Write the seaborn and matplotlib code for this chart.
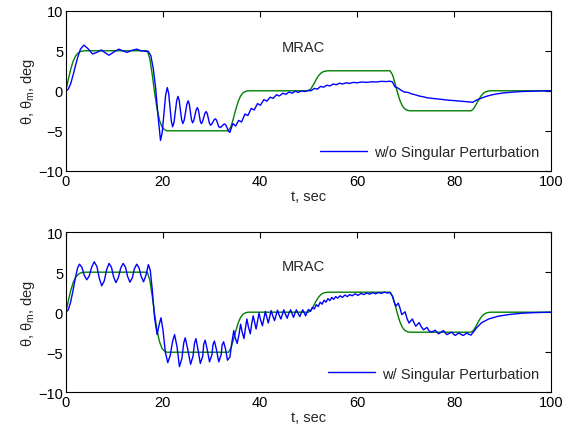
import numpy as np
import pandas as pd
import matplotlib
matplotlib.use("Agg")
import matplotlib.pyplot as plt
import seaborn as sns

# reference model theta_m (same in both panels)
t_model = [0, 0.5, 1, 1.5, 2, 2.5, 3, 3.5, 4,
           16.8, 17.3, 17.8, 18.3, 18.8, 19.3, 19.8, 20.3, 20.8,
           33.5, 34, 34.5, 35, 35.5, 36, 36.5, 37, 37.5,
           50, 50.5, 51, 51.5, 52, 52.5, 53, 53.5, 54,
           66.8, 67.3, 67.8, 68.3, 68.8, 69.3, 69.8, 70.3, 70.8,
           83.5, 84, 84.5, 85, 85.5, 86, 86.5, 87, 87.5,
           100]
theta_model = [0, 1.4, 2.7, 3.7, 4.35, 4.7, 4.9, 4.97, 5,
               5, 4.0, 2.0, -0.3, -2.3, -3.7, -4.5, -4.85, -5,
               -5, -4.5, -3.5, -2.35, -1.35, -0.65, -0.25, -0.08, 0,
               0, 0.25, 0.75, 1.33, 1.83, 2.18, 2.38, 2.46, 2.5,
               2.5, 2.0, 1.0, -0.15, -1.15, -1.85, -2.25, -2.42, -2.5,
               -2.5, -2.25, -1.75, -1.18, -0.68, -0.33, -0.13, -0.04, 0,
               0]

# theta without singular perturbation
t_wo = [0, 0.5, 1, 1.5, 2, 2.5, 3, 3.7, 4.5, 5.5, 6.4, 7.3, 8.1, 8.9, 9.9,
        10.9, 11.7, 12.6, 13.6, 14.6, 15.5, 16.3, 17, 17.5, 18, 18.5, 19,
        19.5, 19.85, 20.2, 20.55, 20.9, 21.18, 21.45, 21.73, 22.0, 22.28,
        22.55, 22.83, 23.1, 23.35, 23.6, 23.85, 24.1, 24.38, 24.65, 24.93,
        25.2, 25.43, 25.65, 25.88, 26.1, 26.35, 26.6, 26.85, 27.1, 27.3,
        27.5, 27.7, 27.9, 28.15, 28.4, 28.65, 28.9, 29.13, 29.35, 29.58,
        29.8, 30.05, 30.3, 30.55, 30.8, 31.03, 31.25, 31.48, 31.7, 31.95,
        32.2, 32.45, 32.7, 32.98, 33.25, 33.53, 33.8,
        34.4, 35.0, 35.6, 36.2, 36.9, 37.5, 38.2, 38.8, 39.5, 40.1, 40.8,
        41.4, 42.1, 42.7, 43.4, 44.0, 44.7, 45.3, 46.0, 46.6, 47.3, 47.9,
        48.6, 49.2, 49.9, 50.5,
        51.2, 51.8, 52.5, 53.1, 53.8, 54.4, 55.1, 55.7, 56.4, 57, 57.8,
        58.4, 59.2, 60, 61, 62, 63, 64, 65, 66, 66.8, 67.3, 67.8, 68.4, 69,
        69.7, 70.5, 71.3, 72, 72.8, 73.6, 74.5, 75.5, 76.5, 77.5, 78.5,
        79.5, 80.5, 81.5, 82.5, 83.3, 83.8, 84.5, 85.5, 86.5, 87.5, 88.5,
        90, 92, 94, 96, 98, 100]
theta_wo = [0, 0.2, 0.9, 2.0, 3.2, 4.3, 5.2, 5.7, 5.3, 4.6, 4.8, 5.1, 4.75,
            4.45, 4.85, 5.2, 5.0, 4.8, 5.05, 5.2, 5.0, 4.95, 4.9, 4.4, 2.8,
            0.3, -3.2,
            -6.2, -5.24, -2.9, -0.56, 0.4, -0.32, -2.05, -3.78, -4.5, -3.95,
            -2.6, -1.25, -0.7, -1.2, -2.4, -3.6, -4.1, -3.68, -2.68, -1.67,
            -1.25, -1.65, -2.63, -3.6, -4.0, -3.72, -3.05, -2.38, -2.1, -2.39,
            -3.1, -3.81, -4.1, -3.88, -3.35, -2.82, -2.6, -2.85, -3.45, -4.05,
            -4.3, -4.18, -3.9, -3.62, -3.5, -3.66, -4.05, -4.44, -4.6, -4.53,
            -4.38, -4.22, -4.15, -4.3, -4.68, -5.05, -5.2,
            -4.1, -4.4, -3.7, -3.9, -2.9, -3.1, -2.2, -2.4, -1.6, -1.8, -1.1,
            -1.3, -0.8, -0.95, -0.5, -0.65, -0.3, -0.45, -0.15, -0.3, -0.05,
            -0.2, 0.0, -0.1, 0.05, 0.0,
            0.3, 0.2, 0.55, 0.45, 0.7, 0.6, 0.85, 0.75, 0.95, 0.85, 1.0,
            0.92, 1.05, 1.0, 1.1, 1.05, 1.12, 1.1, 1.18, 1.15, 1.2, 1.1, 0.5,
            0.35, 0.1, -0.15, -0.2, -0.4, -0.5, -0.65, -0.75, -0.88, -0.95,
            -1.03, -1.1, -1.15, -1.2, -1.25, -1.3, -1.35, -1.4, -1.45, -1.2,
            -0.95, -0.72, -0.55, -0.42, -0.28, -0.17, -0.09, -0.05, -0.02, 0]

# theta with singular perturbation
t_w = [0, 0.5, 1, 1.5, 2, 2.4, 2.8, 3.3, 3.8, 4.3, 4.8, 5.3, 5.85, 6.4,
       6.9, 7.4, 7.9, 8.4, 8.9, 9.4, 9.8, 10.3, 10.8, 11.3, 11.8, 12.3,
       12.7, 13.2, 13.7, 14.1, 14.6, 15.1, 15.5, 16.0, 16.5, 17.0, 17.4,
       17.8, 18.3, 18.8, 19.2, 19.6, 20.0, 20.5, 21.0, 21.5, 22.0, 22.4,
       22.9, 23.4, 23.9, 24.3, 24.6, 25.1, 25.7, 26.2, 26.5, 26.8, 27.2,
       27.7, 28.2, 28.4, 28.7, 29.1, 29.6, 30.1, 30.3, 30.6, 31.0, 31.5,
       32.0, 32.2, 32.5, 32.9, 33.3, 33.8, 34.2, 34.6, 34.9, 35.3, 35.7,
       36.0, 36.3, 36.7, 37.0, 37.3, 37.6, 38.0, 38.3, 38.6, 38.9, 39.2,
       39.5, 39.8, 40.1, 40.5, 40.8, 41.1, 41.4, 41.7, 42.0, 42.3, 42.6,
       43.0, 43.3, 43.6, 43.9, 44.3, 44.6, 44.9, 45.2, 45.6, 45.9, 46.3,
       46.6, 46.9, 47.2, 47.5, 47.8, 48.2, 48.5, 48.8, 49.1, 49.4, 49.7,
       50.0, 50.4, 50.8, 51.2, 51.6, 52.0, 52.4, 52.8, 53.2, 53.6, 54.0,
       54.4, 54.8, 55.2, 55.6, 56.0, 56.5, 57.0, 57.5, 58.0, 58.5, 59.0,
       59.6, 60.2, 60.8, 61.4, 62.0, 62.6, 63.2, 63.8, 64.4, 65.0, 65.6,
       66.2, 66.8, 67.3, 67.7, 68.0, 68.5, 68.9, 69.2, 69.9, 70.3, 70.7,
       71.4, 71.8, 72.1, 72.8, 73.2, 73.7, 74.4, 74.8, 75.3, 76.1, 76.5,
       76.8, 77.8, 78.2, 78.5, 79.5, 79.9, 80.2, 81.0, 81.5, 81.9, 82.6,
       83.0, 83.5, 84.2, 84.7, 85.7, 87.1, 89.1, 91.2, 93.9, 96.7, 100]
theta_w = [0, 0.3, 1.3, 2.8, 4.4, 5.5, 6.0, 5.6, 4.6, 4.05, 4.5, 5.6, 6.3,
           5.7, 4.2, 3.3, 3.9, 5.3, 6.1, 5.6, 4.5, 3.7, 4.3, 5.5, 6.1, 5.6,
           4.5, 3.75, 4.3, 5.4, 6.0, 5.5, 4.5, 3.8, 4.6, 5.95, 5.2, 2.8,
           -0.8, -2.8, -1.6, -0.7, -2.2, -5.0, -6.3, -5.4, -3.6, -2.8, -4.3,
           -6.8, -5.8, -3.8, -3.2, -4.6, -6.5, -5.5, -3.9, -3.3, -4.6, -6.4,
           -5.5, -4.0, -3.5, -4.6, -6.2, -5.3, -4.1, -3.6, -4.6, -6.2, -5.3,
           -4.1, -3.7, -4.6, -6.0, -5.6, -3.8, -2.3, -3.2, -3.9, -2.7, -1.5,
           -2.4, -3.3, -2.0, -0.85, -1.8, -2.7, -1.4, -0.45, -1.3, -2.1,
           -1.1, -0.1, -0.9, -1.7, -0.8, 0.1, -0.6, -1.35, -0.6, 0.2, -0.4,
           -1.05, -0.4, 0.25, -0.3, -0.85, -0.3, 0.3, -0.2, -0.75, -0.2,
           0.3, -0.15, -0.65, -0.15, 0.3, -0.1, -0.55, -0.1, 0.3, -0.05,
           -0.45, 0.0, 0.35, 0.1, 0.6, 0.4, 0.95, 0.7, 1.25, 1.0, 1.5, 1.25,
           1.7, 1.45, 1.85, 1.6, 1.95, 1.75, 2.05, 1.85, 2.15, 1.95, 2.2,
           2.05, 2.3, 2.1, 2.35, 2.2, 2.4, 2.25, 2.45, 2.3, 2.45, 2.35, 2.5,
           2.4, 2.45, 2.0, 1.2, 0.75, 1.13, 0.4, -0.3, 0.05, -0.8, -1.35,
           -0.85, -1.4, -1.75, -1.3, -1.8, -2.2, -1.9, -2.3, -2.5, -2.25,
           -2.5, -2.7, -2.3, -2.6, -2.8, -2.5, -2.75, -2.9, -2.6, -2.8,
           -2.9, -2.6, -2.75, -2.85, -2.3, -1.9, -1.3, -0.85, -0.5, -0.3,
           -0.13, -0.05, 0]

sns.set_theme(style="white")
plt.rcParams['font.family'] = ['Liberation Sans', 'DejaVu Sans']
plt.rcParams['mathtext.default'] = 'regular'

blue = (0, 0, 1)
green = (0, 0.5, 0)
fs = 10.5

fig = plt.figure(figsize=(5.63, 4.35), dpi=100)
ax1 = fig.add_axes([0.117, 0.605, 0.862, 0.368])
ax2 = fig.add_axes([0.117, 0.096, 0.862, 0.368])

panels = [(ax1, t_wo, theta_wo, 'w/o Singular Perturbation', 5.5),
          (ax2, t_w, theta_w, 'w/ Singular Perturbation', 5.8)]

for ax, tt, th, lab, ytxt in panels:
    sns.lineplot(x=t_model, y=theta_model, ax=ax, color=green, lw=1.0,
                 legend=False, sort=False)
    sns.lineplot(x=tt, y=th, ax=ax, color=blue, lw=1.0, label=lab,
                 sort=False)
    ax.set_xlim(0, 100)
    ax.set_ylim(-10, 10)
    ax.set_xticks([0, 20, 40, 60, 80, 100])
    ax.set_yticks([-10, -5, 0, 5, 10])
    ax.tick_params(direction='in', length=4, width=0.8, labelsize=fs,
                   top=True, right=True, pad=2, colors='black')
    for sp in ax.spines.values():
        sp.set_color('black')
        sp.set_linewidth(0.8)
    ax.set_xlabel('t, sec', fontsize=fs, labelpad=1)
    ax.set_ylabel('θ, θ$_m$, deg', fontsize=fs, labelpad=1)
    ax.text(49, ytxt, 'MRAC', ha='center', va='center', fontsize=fs)
    handles, labels = ax.get_legend_handles_labels()
    ax.legend(handles, labels, loc='lower right', frameon=False,
              fontsize=fs, handlelength=3.2, handletextpad=0.5,
              borderaxespad=0.4)

fig.savefig('out.png', dpi=100)
